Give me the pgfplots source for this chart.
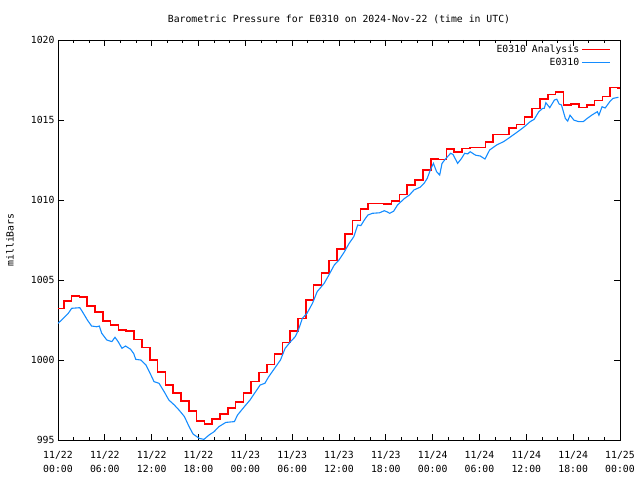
\documentclass[border=0pt]{standalone}
\usepackage{pgfplots}
\pgfplotsset{compat=1.18}
\usepackage{fontspec}
\setmainfont{DejaVu Sans Mono}
\definecolor{ared}{RGB}{255,0,0}
\definecolor{eblue}{RGB}{20,140,255}
\begin{document}
\fontsize{9.8}{12}\selectfont
\begin{tikzpicture}
\useasboundingbox (-58pt,-40pt) rectangle (582pt,440pt);
\begin{axis}[
 at={(0pt,0pt)}, anchor=south west,
 scale only axis, width=562pt, height=400pt,
 xmin=0, xmax=72, ymin=995, ymax=1020,
 xtick={0,6,...,72},
 xticklabels={{11/22\\00:00},{11/22\\06:00},{11/22\\12:00},{11/22\\18:00},{11/23\\00:00},{11/23\\06:00},{11/23\\12:00},{11/23\\18:00},{11/24\\00:00},{11/24\\06:00},{11/24\\12:00},{11/24\\18:00},{11/25\\00:00}},
 xticklabel style={align=center, font=\fontsize{9.8}{14}\selectfont, yshift=-8pt},
 minor x tick num=2,
 ytick={995,1000,...,1020},
 tick align=inside, major tick length=6pt, minor tick length=3pt,
 tick style={black, line width=0.8pt},
 axis line style={line width=0.9pt},
 /pgf/number format/assume math mode=true,
 /pgf/number format/1000 sep={},
 ylabel={milliBars},
 every axis y label/.style={at={(axis description cs:0,0.5)}, xshift=-48pt, rotate=90, anchor=center},
 title={Barometric Pressure for E0310 on 2024-Nov-22 (time in UTC)},
 every axis title/.style={at={(axis description cs:0.5,1)}, yshift=21pt, anchor=center},
 legend style={draw=none, fill=none, at={(rel axis cs:1,1)}, anchor=north east, xshift=-8pt, yshift=-2pt, row sep=0pt, inner sep=1pt},
 legend plot pos=right, legend cell align=right,
 legend image code/.code={\draw[#1] (4pt,0pt) -- (32pt,0pt);},
]
\addplot[ared, line width=1.6pt, const plot] coordinates {
(0,1003.23) (0.75,1003.69) (1.75,1004.0) (2.75,1003.92) (3.75,1003.375) (4.75,1003.0)
(5.75,1002.44) (6.75,1002.19) (7.75,1001.875) (8.75,1001.81) (9.75,1001.29) (10.75,1000.79)
(11.75,1000.0) (12.75,999.25) (13.75,998.44) (14.75,997.92) (15.75,997.44) (16.75,996.81)
(17.75,996.19) (18.75,996.0) (19.75,996.31) (20.75,996.625) (21.75,997.0) (22.75,997.375)
(23.75,997.92) (24.75,998.65) (25.75,999.23) (26.75,999.73) (27.75,1000.375) (28.75,1001.10)
(29.75,1001.81) (30.75,1002.60) (31.75,1003.75) (32.75,1004.67) (33.75,1005.42) (34.75,1006.23)
(35.75,1006.92) (36.75,1007.875) (37.75,1008.73) (38.75,1009.42) (39.75,1009.79) (40.75,1009.79)
(41.75,1009.75) (42.75,1009.94) (43.75,1010.35) (44.75,1010.92) (45.75,1011.25) (46.75,1011.875)
(47.75,1012.58) (48.75,1012.54) (49.75,1013.17) (50.75,1013.0) (51.75,1013.23) (52.75,1013.29)
(53.75,1013.29) (54.75,1013.625) (55.75,1014.10) (56.75,1014.10) (57.75,1014.5) (58.75,1014.73)
(59.75,1015.19) (60.75,1015.73) (61.75,1016.31) (62.75,1016.6) (63.75,1016.75) (64.75,1015.94)
(65.75,1016.0) (66.75,1015.79) (67.75,1015.94) (68.75,1016.21) (69.75,1016.46) (70.75,1017.04)
(71.75,1017.0) (72,1017.0)
};
\addlegendentry{E0310 Analysis}
\addplot[eblue, line width=1.1pt] coordinates {
(0,1002.29) (0.68,1002.6) (1.32,1002.92) (1.75,1003.23) (2.8,1003.27) (3.2,1002.96)
(3.76,1002.5) (4.3,1002.125) (4.95,1002.08) (5.3,1002.12) (5.6,1001.67) (6.25,1001.25)
(6.9,1001.15) (7.3,1001.42) (7.7,1001.15) (8.2,1000.73) (8.65,1000.875) (9.3,1000.67)
(9.7,1000.4) (9.96,1000.04) (10.6,1000.0) (11.27,999.69) (11.7,999.27) (12.3,998.65)
(12.95,998.54) (13.6,998.02) (14.2,997.5) (14.9,997.19) (15.5,996.875) (16.2,996.46)
(16.8,995.83) (17.3,995.375) (18.1,995.1) (18.7,995.04) (19.35,995.31) (20,995.52)
(20.6,995.83) (21.5,996.1) (22.6,996.15) (23.0,996.56) (23.7,996.98) (24.6,997.5)
(25.9,998.44) (26.5,998.54) (27,998.96) (27.6,999.375) (28.5,1000.0) (29.1,1000.73)
(29.8,1001.15) (30.4,1001.46) (30.8,1001.875) (31.3,1002.6) (31.9,1002.92) (32.6,1003.54)
(33.2,1004.27) (34.1,1004.79) (34.7,1005.31) (35.4,1005.94) (36,1006.25) (36.7,1006.77)
(37.3,1007.29) (37.9,1007.71) (38.4,1008.44) (38.8,1008.4) (39.3,1008.79) (39.7,1009.06)
(40.3,1009.17) (41.2,1009.2) (41.8,1009.33) (42.2,1009.25) (42.5,1009.17) (43,1009.3)
(43.5,1009.69) (44.4,1010.1) (45.0,1010.3) (45.6,1010.625) (46.4,1010.8) (46.9,1011.04)
(47.3,1011.35) (47.7,1011.875) (48.1,1012.29) (48.5,1011.77) (48.9,1011.56) (49.2,1012.29)
(49.6,1012.54) (50.3,1012.92) (50.6,1012.85) (51.2,1012.29) (51.7,1012.6) (52.1,1012.92)
(52.5,1012.88) (52.8,1013.02) (53.5,1012.8) (54.1,1012.75) (54.7,1012.56) (55.3,1013.125)
(56.2,1013.44) (57.1,1013.65) (57.7,1013.85) (58.3,1014.06) (59.2,1014.375) (59.8,1014.6)
(60.5,1014.9) (61,1015.04) (61.6,1015.52) (62.1,1015.73) (62.3,1015.73) (62.5,1016.08)
(63,1015.77) (63.6,1016.25) (63.9,1016.3) (64.2,1016.0) (64.5,1015.94) (64.7,1015.6)
(65,1015.1) (65.3,1014.93) (65.6,1015.3) (66.1,1014.99) (66.7,1014.9) (67.3,1014.9)
(67.8,1015.1) (68.4,1015.31) (69.1,1015.52) (69.3,1015.3) (69.7,1015.83) (70.1,1015.75)
(70.7,1016.15) (71.1,1016.35) (71.8,1016.42)
};
\addlegendentry{E0310}
\end{axis}
\end{tikzpicture}
\end{document}
